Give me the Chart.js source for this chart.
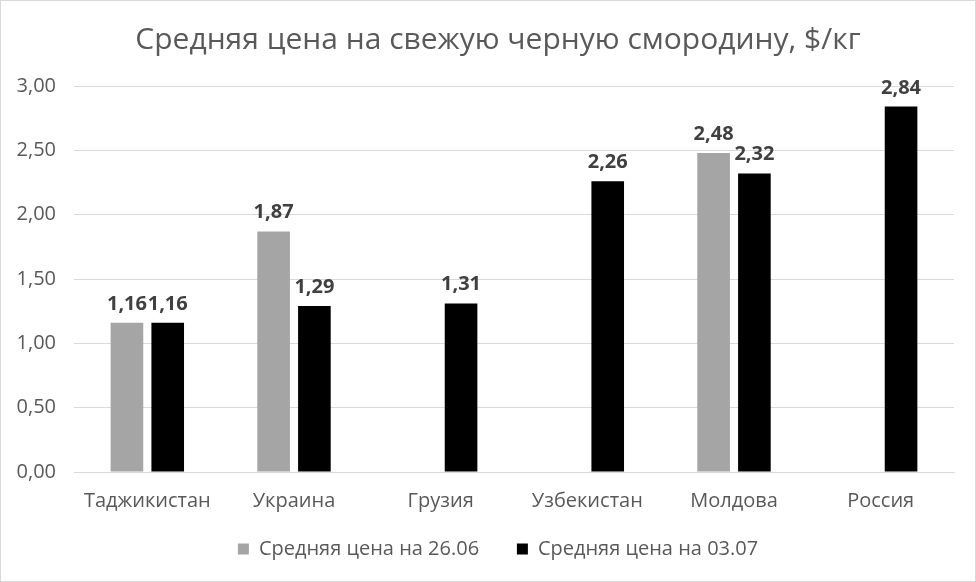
<!DOCTYPE html>
<html>
<head>
<meta charset="utf-8">
<script src="https://cdn.jsdelivr.net/npm/chart.js@4"></script>
<style>
  html, body { margin: 0; padding: 0; background: #fff; }
  #wrap { width: 976px; height: 582px; box-sizing: border-box; border: 1px solid #d9d9d9; }
</style>
</head>
<body>
<div id="wrap"><canvas id="chart" width="974" height="580"></canvas></div>
<script>
var categories = ['Таджикистан', 'Украина', 'Грузия', 'Узбекистан', 'Молдова', 'Россия'];
var price2606 = [1.16, 1.87, null, null, 2.48, null];
var price0307 = [1.16, 1.29, 1.31, 2.26, 2.32, 2.84];
var seriesNames = ['Средняя цена на 26.06', 'Средняя цена на 03.07'];

var fontFamily = "'Open Sans', 'Noto Sans', sans-serif";

function fmt(v) {
    return v.toFixed(2).replace('.', ',');
}

var valueLabels = {
    id: 'valueLabels',
    afterDatasetsDraw: function (chart) {
        var c = chart.ctx;
        c.save();
        c.font = 'bold 20px ' + fontFamily;
        c.fillStyle = '#404040';
        c.textAlign = 'center';
        c.textBaseline = 'alphabetic';
        chart.data.datasets.forEach(function (ds, i) {
            chart.getDatasetMeta(i).data.forEach(function (bar, j) {
                var v = ds.data[j];
                if (v === null || v === undefined) return;
                c.fillText(fmt(v), bar.x, bar.y - 13);
            });
        });
        c.restore();
    }
};

var ctx = document.getElementById('chart').getContext('2d');
var chart = new Chart(ctx, {
    type: 'bar',
    data: {
        labels: categories,
        datasets: [{
            label: seriesNames[0],
            data: price2606,
            backgroundColor: '#a5a5a5',
            categoryPercentage: 0.556,
            barPercentage: 0.8
        }, {
            label: seriesNames[1],
            data: price0307,
            backgroundColor: '#000000',
            categoryPercentage: 0.556,
            barPercentage: 0.8
        }]
    },
    options: {
        responsive: false,
        animation: false,
        layout: {
            padding: { left: 10, right: -10, top: 10, bottom: 12 }
        },
        plugins: {
            title: {
                display: true,
                text: 'Средняя цена на свежую черную смородину, $/кг',
                color: '#595959',
                font: { family: fontFamily, size: 30, weight: 'normal' },
                padding: { top: 11, bottom: 28 }
            },
            legend: {
                display: true,
                position: 'bottom',
                labels: {
                    color: '#595959',
                    font: { family: fontFamily, size: 20 },
                    boxWidth: 11,
                    boxHeight: 11,
                    padding: 17,
                    generateLabels: function (chart) {
                        var items = Chart.defaults.plugins.legend.labels.generateLabels(chart);
                        items.forEach(function (it, i) {
                            if (i === 0) it.text = it.text + '    ';
                        });
                        return items;
                    }
                }
            },
            tooltip: { enabled: false }
        },
        scales: {
            x: {
                grid: { display: false },
                border: { display: true, color: '#d9d9d9' },
                ticks: {
                    color: '#595959',
                    font: { family: fontFamily, size: 20 },
                    padding: 9
                }
            },
            y: {
                min: 0,
                max: 3,
                grid: { color: '#d9d9d9', drawTicks: false },
                border: { display: false },
                ticks: {
                    stepSize: 0.5,
                    color: '#595959',
                    font: { family: fontFamily, size: 20 },
                    padding: 18,
                    callback: function (v) { return fmt(v); }
                },
                afterFit: function (scale) { scale.width = 63; }
            },
            yRight: {
                position: 'right',
                display: true,
                grid: { display: false },
                border: { display: false },
                ticks: { display: false },
                afterFit: function (scale) { scale.width = 31; }
            }
        }
    },
    plugins: [valueLabels]
});
</script>
</body>
</html>
